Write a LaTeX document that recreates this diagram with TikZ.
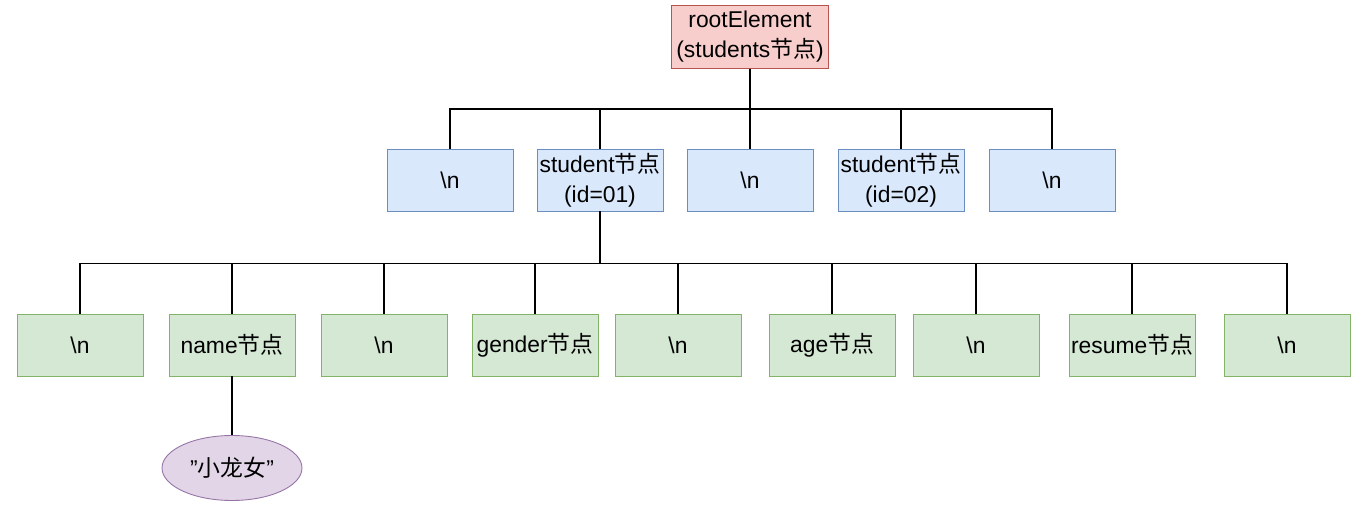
\documentclass[tikz,border=0pt]{standalone}
\usepackage{fontspec}
\usetikzlibrary{shapes.geometric}
\setmainfont{Liberation Sans}
\newfontfamily\cjk{Noto Sans CJK SC}
\newcommand{\jd}{{\cjk 节点}}
\definecolor{rootfill}{HTML}{F8CECC}
\definecolor{rootline}{HTML}{B85450}
\definecolor{bluefill}{HTML}{DAE8FC}
\definecolor{blueline}{HTML}{6C8EBF}
\definecolor{greenfill}{HTML}{D5E8D4}
\definecolor{greenline}{HTML}{82B366}
\definecolor{textfill}{HTML}{E1D5E7}
\definecolor{textline}{HTML}{9673A6}

\begin{document}
\begin{tikzpicture}[x=0.02cm, y=-0.02cm,
        font=\fontsize{13}{17}\selectfont,
        box/.style={draw, line width=0.5pt, align=center, inner sep=0pt,
            minimum width=2.52cm, minimum height=1.24cm},
        rootbox/.style={box, fill=rootfill, draw=rootline, minimum width=3.14cm, minimum height=1.26cm},
        elembox/.style={box, fill=bluefill, draw=blueline},
        leafbox/.style={box, fill=greenfill, draw=greenline},
        textnode/.style={ellipse, draw=textline, fill=textfill, line width=0.5pt, inner sep=0pt,
            minimum width=2.8cm, minimum height=1.3cm},
        link/.style={draw, line width=0.7pt}]
                \useasboundingbox (0,0) rectangle (1357,513);
                % root
                \node[rootbox] (root) at (750,37) {rootElement\\(students\jd)};
                % children of root
                \node[elembox] (r1) at (450,180) {\textbackslash n};
                \node[elembox] (s1) at (600,180) {student\jd\\(id=01)};
                \node[elembox] (r2) at (750,180) {\textbackslash n};
                \node[elembox] (s2) at (901,180) {student\jd\\(id=02)};
                \node[elembox] (r3) at (1052,180) {\textbackslash n};
                % children of student 01
                \node[leafbox] (t1) at (80,345) {\textbackslash n};
                \node[leafbox] (name) at (232,345) {name\jd};
                \node[leafbox] (t2) at (384,345) {\textbackslash n};
                \node[leafbox] (gender) at (535,345) {gender\jd};
                \node[leafbox] (t3) at (678,345) {\textbackslash n};
                \node[leafbox] (age) at (832,345) {age\jd};
                \node[leafbox] (t4) at (976,345) {\textbackslash n};
                \node[leafbox] (resume) at (1132,345) {resume\jd};
                \node[leafbox] (t5) at (1287,345) {\textbackslash n};
                \node[textnode] (xln) at (232,468) {\symbol{34}{\cjk 小龙女}\symbol{34}};
                % connectors
                \foreach \c in {r1,s1,r2,s2,r3}
                    \path[link] (root.south) -- ++(0,40) -| (\c.north);
                \foreach \c in {t1,name,t2,gender,t3,age,t4,resume,t5}
                    \path[link] (s1.south) -- ++(0,52) -| (\c.north);
                \path[link] (name) -- (xln);
%                \path[link] (s2.south) -- ++(0,52);
            \end{tikzpicture}
\end{document}
